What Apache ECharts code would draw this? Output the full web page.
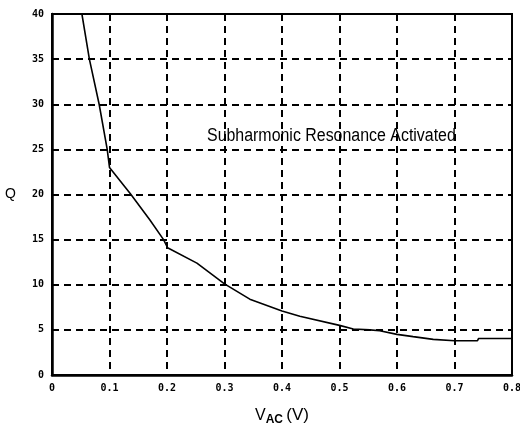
<!DOCTYPE html>
<html>
<head>
<meta charset="utf-8">
<script src="https://cdn.jsdelivr.net/npm/echarts@6/dist/echarts.min.js"></script>
<style>html,body{margin:0;padding:0;background:#fff;}#c{width:520px;height:423px;}</style>
</head>
<body>
<div id="c"></div>
<script>
const vac = [0.052, 0.065, 0.082, 0.096, 0.1, 0.136, 0.17, 0.194, 0.201, 0.252, 0.3, 0.344, 0.4, 0.431, 0.5, 0.524, 0.553, 0.57, 0.6, 0.628, 0.663, 0.7, 0.74, 0.742, 0.8];
const q   = [40, 35, 30, 25, 23.0, 20.1, 17.2, 15.0, 14.1, 12.4, 10.1, 8.4, 7.1, 6.5, 5.5, 5.1, 5.0, 4.9, 4.5, 4.25, 3.95, 3.8, 3.8, 4.05, 4.05];
const annotation = 'Subharmonic Resonance Activated';

const chart = echarts.init(document.getElementById('c'), null, {renderer: 'canvas'});
const labelFont = {color: '#000', fontFamily: 'DejaVu Sans Mono', fontWeight: 'bold', fontSize: 10};
chart.setOption({
  animation: false,
  backgroundColor: '#fff',
  grid: {left: 52, right: 8, top: 14, bottom: 48, containLabel: false, outerBoundsMode: 'none', show: true, borderColor: '#000', borderWidth: 2, backgroundColor: 'transparent'},
  xAxis: {
    type: 'value', min: 0, max: 0.8, interval: 0.1,
    axisLine: {lineStyle: {color: '#000', width: 2.5}},
    axisTick: {show: false},
    axisLabel: Object.assign({margin: 8, formatter: v => (Math.round(v*10)/10).toString()}, labelFont),
    splitLine: {show: true, lineStyle: {color: '#000', type: [7, 5], width: 2}},
    name: '{v|V}{s|AC} {p|(V)}', nameLocation: 'middle', nameGap: 30,
    nameTextStyle: {rich: {
      v: {fontFamily: 'Liberation Sans', fontSize: 16, color: '#000'},
      s: {fontFamily: 'Liberation Sans', fontSize: 12, fontWeight: 'bold', color: '#000', padding: [9, 0, 0, 0]},
      p: {fontFamily: 'Liberation Sans', fontSize: 17, color: '#000'}
    }}
  },
  yAxis: {
    type: 'value', min: 0, max: 40, interval: 5,
    axisLine: {lineStyle: {color: '#000', width: 2.5}},
    axisTick: {show: false},
    axisLabel: Object.assign({margin: 8}, labelFont),
    splitLine: {show: true, lineStyle: {color: '#000', type: [7, 5], width: 2}},
    name: 'Q', nameLocation: 'middle', nameRotate: 0, nameGap: 36,
    nameTextStyle: {fontFamily: 'Liberation Sans', fontSize: 14, color: '#000'}
  },
  graphic: [{
    type: 'text', left: 207, top: 127, scaleX: 0.885,
    style: {text: annotation, font: '18px "Liberation Sans"', fill: '#000'}
  }],
  series: [{
    type: 'line',
    data: vac.map((x, i) => [x, q[i]]),
    symbol: 'none',
    lineStyle: {color: '#000', width: 1.6},
    clip: true
  }]
});
</script>
</body>
</html>
